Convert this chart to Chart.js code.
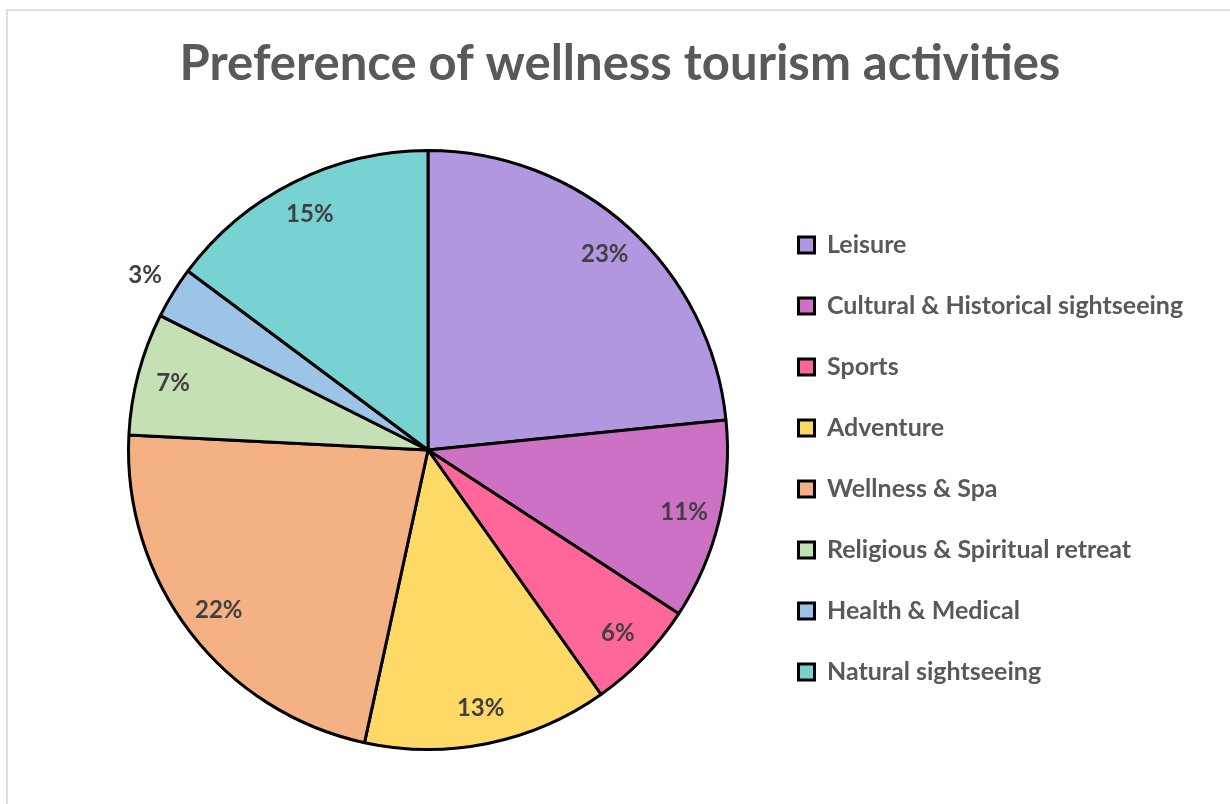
<!DOCTYPE html>
<html>
<head>
<meta charset="utf-8">
<script src="https://cdn.jsdelivr.net/npm/chart.js@4.4.1/dist/chart.umd.min.js"></script>
<style>
  body { margin: 0; background: #fff; }
  #wrap { position: relative; width: 1230px; height: 804px; }
  #frame { position: absolute; left: 6px; top: 9px; right: -10px; bottom: -10px;
           border-left: 2px solid #dedede; border-top: 2px solid #dedede; }
  canvas { position: absolute; left: 0; top: 0; }
</style>
</head>
<body>
<div id="wrap">
  <div id="frame"></div>
  <canvas id="chartPie" width="1230" height="804"></canvas>
</div>
<script>
const categories = ['Leisure', 'Cultural & Historical sightseeing', 'Sports', 'Adventure',
                    'Wellness & Spa', 'Religious & Spiritual retreat', 'Health & Medical', 'Natural sightseeing'];
const shares = [23.4, 10.8, 6.0, 13.2, 22.4, 6.6, 2.8, 14.8];
const sliceColors = ['#B196E0', '#CD71C4', '#FF6699', '#FFD966', '#F4B183', '#C5E0B4', '#9DC3E6', '#78D2D2'];

const FONT = 'Lato, "Open Sans", sans-serif';

// percent labels: inside near the rim, small slices just outside
const pieLabels = {
    id: 'pieLabels',
    afterDatasetsDraw(chart) {
        const ctx = chart.ctx;
        const total = shares.reduce((a, b) => a + b, 0);
        ctx.save();
        ctx.font = 'bold 24px ' + FONT;
        ctx.fillStyle = '#404040';
        ctx.textAlign = 'center';
        ctx.textBaseline = 'middle';
        chart.getDatasetMeta(0).data.forEach((arc, i) => {
            const { x, y, startAngle, endAngle, outerRadius } = arc.getProps(['x', 'y', 'startAngle', 'endAngle', 'outerRadius'], true);
            const mid = (startAngle + endAngle) / 2;
            const pct = Math.round(shares[i] / total * 100);
            const r = outerRadius * (pct < 5 ? 1.11 : 0.88);
            ctx.fillText(pct + '%', x + Math.cos(mid) * r, y + Math.sin(mid) * r);
        });
        ctx.restore();
    }
};

// fixed legend width so the pie keeps its place on the left,
// and the title centred on the whole frame
const layoutFix = {
    id: 'layoutFix',
    beforeInit(chart) {
        const origFit = chart.legend.fit;
        chart.legend.fit = function () {
            origFit.call(this);
            this.width = 467.5;
        };
    },
    afterLayout(chart) {
        const t = chart.titleBlock;
        t.left = 10;
        t.right = 1230;
        t.width = 1220;
    }
};

new Chart(document.getElementById('chartPie'), {
    type: 'pie',
    data: {
        labels: categories,
        datasets: [{
            data: shares,
            backgroundColor: sliceColors,
            borderColor: '#000000',
            borderWidth: 3
        }]
    },
    options: {
        responsive: false,
        animation: false,
        layout: { padding: { left: 93.5, right: 0, top: 0, bottom: 53 } },
        plugins: {
            tooltip: { enabled: false },
            title: {
                display: true,
                text: 'Preference of wellness tourism activities',
                color: '#595959',
                font: { family: FONT, size: 49, weight: 'bold' },
                padding: { top: 35, bottom: 55.2 }
            },
            legend: {
                position: 'right',
                title: { display: true, text: '', padding: { top: 76, bottom: 76 }, font: { size: 14, lineHeight: 1 } },
                labels: {
                    color: '#595959',
                    font: { family: FONT, size: 25, weight: 'bold' },
                    boxWidth: 16,
                    boxHeight: 16,
                    padding: 36
                }
            }
        }
    },
    plugins: [pieLabels, layoutFix]
});
</script>
</body>
</html>
